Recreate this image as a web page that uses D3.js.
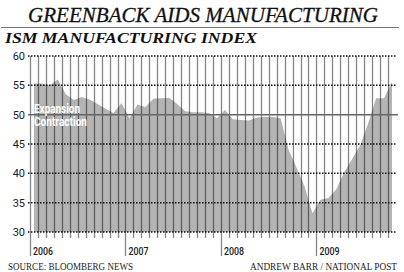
<!DOCTYPE html>
<html>
<head>
<meta charset="utf-8">
<script src="https://cdn.jsdelivr.net/npm/d3@7"></script>
<style>
  body { margin: 0; background: #fff; }
  svg { display: block; }
</style>
</head>
<body>
<script>
// monthly ISM index, Jan 2006 - Oct 2009
const ism = [
  55.3, 55.3, 55.0, 56.0, 53.5, 52.5, 53.0, 52.6, 51.8, 51.0, 50.3, 52.0,
  49.4, 51.7, 51.3, 52.7, 52.8, 52.9, 51.8, 50.6, 50.4, 50.4, 50.3, 49.4,
  50.8, 49.2, 49.1, 49.0, 49.5, 49.6, 49.6, 49.4, 44.0, 41.0, 37.8, 33.2,
  35.5, 35.8, 37.3, 40.2, 42.5, 44.8, 48.5, 52.8, 52.8, 55.6
];
const years = ["2006", "2007", "2008", "2009"];
const yTicks = [30, 35, 40, 45, 50, 55, 60];

const W = 404, H = 272;
const svg = d3.select("body").append("svg").attr("width", W).attr("height", H);

const x = d3.scaleLinear().domain([0, 46]).range([30, 396]);
const y = d3.scaleLinear().domain([30, 60]).range([232, 56]);

const serif = "'Liberation Serif', 'DejaVu Serif', serif";
const sans = "Roboto, 'Liberation Sans', sans-serif";

/* titles */
svg.append("text")
  .attr("x", 28).attr("y", 22)
  .attr("textLength", 350).attr("lengthAdjust", "spacingAndGlyphs")
  .style("font-family", serif)
  .style("font-style", "italic")
  .style("font-size", "21px")
  .attr("fill", "#111").attr("stroke", "#111").attr("stroke-width", 0.3)
  .text("GREENBACK AIDS MANUFACTURING");

svg.append("line")
  .attr("x1", 1).attr("x2", 399).attr("y1", 27.5).attr("y2", 27.5)
  .attr("stroke", "#777").attr("stroke-width", 1);

svg.append("text")
  .attr("x", 5).attr("y", 43)
  .attr("textLength", 252).attr("lengthAdjust", "spacingAndGlyphs")
  .style("font-family", serif)
  .style("font-style", "italic").style("font-weight", "bold")
  .style("font-size", "15.5px")
  .attr("fill", "#111")
  .text("ISM MANUFACTURING INDEX");

/* area */
const area = d3.area()
  .x((d, i) => x(i + 0.5))
  .y0(y(30))
  .y1(d => y(d));
svg.append("path")
  .datum(ism)
  .attr("d", area)
  .attr("fill", "#b4b4b4");

/* horizontal grid */
svg.append("g").selectAll("line")
  .data(yTicks.filter(t => t !== 50))
  .enter().append("line")
  .attr("x1", 28).attr("x2", 397)
  .attr("y1", d => y(d)).attr("y2", d => y(d))
  .attr("stroke", "#111").attr("stroke-width", 1.5)
  .attr("stroke-dasharray", "1.5,1.5");

/* monthly verticals */
svg.append("g").selectAll("line")
  .data(d3.range(46))
  .enter().append("line")
  .attr("x1", d => Math.round(x(d)) + 0.5).attr("x2", d => Math.round(x(d)) + 0.5)
  .attr("y1", y(60)).attr("y2", d => d % 12 === 0 ? 256 : 238)
  .attr("stroke", "#000").attr("stroke-opacity", 0.48).attr("stroke-width", 1.3);

/* 50 line */
svg.append("line")
  .attr("x1", 28).attr("x2", 398)
  .attr("y1", y(50)).attr("y2", y(50))
  .attr("stroke", "#666").attr("stroke-width", 1.5);

/* Expansion / Contraction, on top of the grid */
svg.append("text")
  .attr("x", 34).attr("y", 112.5)
  .attr("textLength", 46).attr("lengthAdjust", "spacingAndGlyphs")
  .style("font-family", sans)
  .style("font-weight", "bold").style("font-size", "12.5px")
  .attr("fill", "#fff")
  .text("Expansion");
svg.append("text")
  .attr("x", 34).attr("y", 126)
  .attr("textLength", 53).attr("lengthAdjust", "spacingAndGlyphs")
  .style("font-family", sans)
  .style("font-weight", "bold").style("font-size", "12.5px")
  .attr("fill", "#fff")
  .text("Contraction");

/* y labels */
svg.append("g").selectAll("text")
  .data(yTicks)
  .enter().append("text")
  .attr("x", 25).attr("y", d => y(d) + 4)
  .attr("text-anchor", "end")
  .style("font-family", sans)
  .style("font-size", "11px")
  .attr("fill", "#222")
  .text(d => d);

/* year labels */
svg.append("g").selectAll("text")
  .data(years)
  .enter().append("text")
  .attr("x", (d, i) => x(i * 12) + 3).attr("y", 255)
  .attr("textLength", 20).attr("lengthAdjust", "spacingAndGlyphs")
  .style("font-family", sans)
  .style("font-weight", "500").style("font-size", "11.5px")
  .attr("fill", "#222")
  .text(d => d);

/* footer */
svg.append("text")
  .attr("x", 8).attr("y", 270)
  .attr("textLength", 125).attr("lengthAdjust", "spacingAndGlyphs")
  .style("font-family", serif)
  .style("font-size", "9.5px")
  .attr("fill", "#222")
  .text("SOURCE: BLOOMBERG NEWS");
svg.append("text")
  .attr("x", 397).attr("y", 270)
  .attr("text-anchor", "end")
  .attr("textLength", 147).attr("lengthAdjust", "spacingAndGlyphs")
  .style("font-family", serif)
  .style("font-size", "9.5px")
  .attr("fill", "#222")
  .text("ANDREW BARR / NATIONAL POST");
</script>
</body>
</html>
